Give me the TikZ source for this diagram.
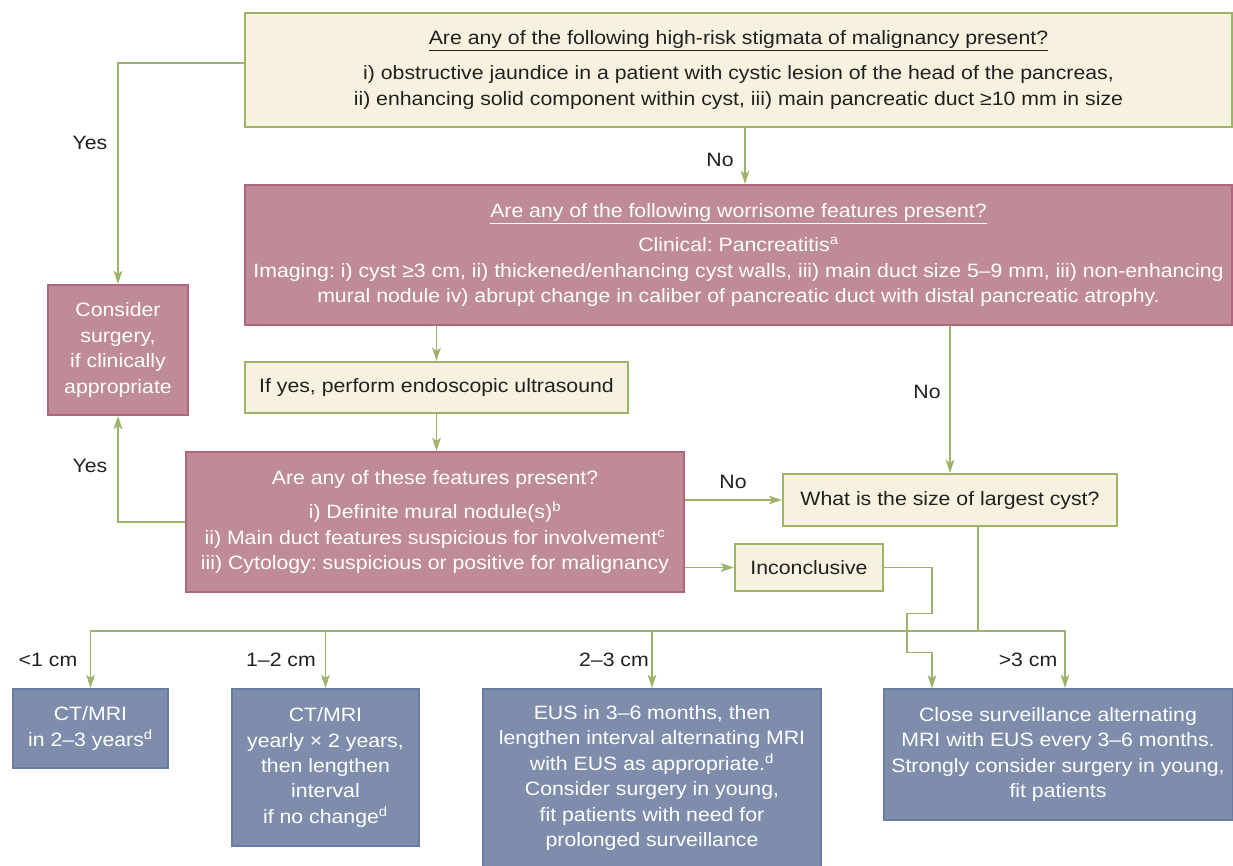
\documentclass[tikz,border=0pt]{standalone}
\usepackage{fontspec}
\setmainfont{Liberation Sans}[FakeStretch=1.1]
\usetikzlibrary{arrows.meta,positioning}
\definecolor{ink}{HTML}{231F20}
\definecolor{leaf}{HTML}{9DB36A}
\definecolor{cream}{HTML}{F7F2DF}
\definecolor{mauve}{HTML}{BE8B97}
\definecolor{mauvedark}{HTML}{B0677E}
\definecolor{slate}{HTML}{7F8DAD}
\definecolor{slatedark}{HTML}{687CA2}
\tikzset{sz/.style 2 args={minimum width=#1*.75pt,minimum height=#2*.75pt}}
\frenchspacing

\begin{document}
\begin{tikzpicture}[x=.75pt,y=-.75pt,>={Stealth[length=10pt,width=6.5pt,inset=2.5pt]},
  font=\fontsize{14.5}{19.1}\selectfont,text=ink,
  qbox/.style={draw=leaf,line width=1.5pt,fill=cream,align=center,inner sep=0pt},
  warn/.style={draw=mauvedark,line width=1.5pt,fill=mauve,text=white,align=center,inner sep=0pt},
  plan/.style={draw=slatedark,line width=1.5pt,fill=slate,text=white,align=center,inner sep=0pt},
  flow/.style={->,line width=1.1pt,draw=leaf},
  lab/.style={inner sep=0pt}]

\useasboundingbox (0,0) rectangle (1233,865);

% questions
\node[qbox,sz={987}{114}] (stigmata) at (738.5,70)
  {\underline{Are any of the following high-risk stigmata of malignancy present?}\\[7pt]
   i) obstructive jaundice in a patient with cystic lesion of the head of the pancreas,\\
   ii) enhancing solid component within cyst, iii) main pancreatic duct ≥10 mm in size};
\node[warn,sz={987}{140}] (worry) at (738.5,255)
  {\underline{Are any of the following worrisome features present?}\\[7pt]
   Clinical: Pancreatitis\textsuperscript{a}\\
   Imaging: i) cyst ≥3 cm, ii) thickened/enhancing cyst walls, iii) main duct size 5–9 mm, iii) non-enhancing\\
   mural nodule iv) abrupt change in caliber of pancreatic duct with distal pancreatic atrophy.};
\node[warn,sz={140}{130}] (surgery) at (118,350)
  {Consider\\surgery,\\if clinically\\appropriate};
\node[qbox,sz={383}{51}] (eus) at (436.5,387.5) {If yes, perform endoscopic ultrasound};
\node[warn,sz={498}{140}] (features) at (435,522)
  {Are any of these features present?\\[7pt]
   i) Definite mural nodule(s)\textsuperscript{b}\\
   ii) Main duct features suspicious for involvement\textsuperscript{c}\\
   iii) Cytology: suspicious or positive for malignancy};
\node[qbox,sz={334}{52}] (size) at (950,500) {What is the size of largest cyst?};
\node[qbox,sz={148}{47}] (inconcl) at (809,567.5) {Inconclusive};

% follow-up plans
\node[plan,sz={155}{79}] (small) at (90.5,728.5) {CT/MRI\\in 2–3 years\textsuperscript{d}};
\node[plan,sz={187}{157}] (mid) at (325.5,767.5)
  {CT/MRI\\yearly × 2 years,\\then lengthen\\interval\\if no change\textsuperscript{d}};
\node[plan,sz={338}{178}] (large) at (652,778)
  {EUS in 3–6 months, then\\lengthen interval alternating MRI\\with EUS as appropriate.\textsuperscript{d}\\
   Consider surgery in young,\\fit patients with need for\\prolonged surveillance};
\node[plan,sz={349}{131}] (huge) at (1058,754.5)
  {Close surveillance alternating\\MRI with EUS every 3–6 months.\\Strongly consider surgery in young,\\fit patients};

% connectors
\draw[flow] ([yshift=5.25pt]stigmata.west) -| (surgery.north);
\draw[flow] ([xshift=4.9pt]stigmata.south) -- ([xshift=4.9pt]worry.north);
\draw[flow] (worry.south -| eus.north) -- (eus.north);
\draw[flow] (worry.south -| size.north) -- (size.north);
\draw[flow] (eus.south) -- (eus.south |- features.north);
\draw[flow] (features.west) -| (surgery.south);
\draw[flow] (features.east |- size.west) -- (size.west);
\draw[flow] (features.east |- inconcl.west) -- (inconcl.west);
\draw[flow] (inconcl.east) -- ++(48,0) -- ++(0,46) -- ++(-25,0) -- ++(0,39) -- ++(25,0) -- ++(0,36);
\coordinate (split) at (978,631);
\draw[flow,-] ([xshift=21pt]size.south) -- (split);
\draw[flow] (split) -| (small.north);
\draw[flow] (split) -| ([xshift=5.25pt]huge.north);
\draw[flow] (mid.north |- split) -- (mid.north);
\draw[flow] (large.north |- split) -- (large.north);

% labels
\node[lab] (yes1) at (90,143) {Yes};
\node[lab] (no1) at (720,160) {No};
\node[lab] (no2) at (927,392) {No};
\node[lab] (yes2) at (90,466) {Yes};
\node[lab] (no3) at (733,482) {No};
\node[lab] (lt1) at (48,660) {<1 cm};
\node[lab] (r12) at (281,660) {1–2 cm};
\node[lab] (r23) at (614,660) {2–3 cm};
\node[lab] (gt3) at (1028,660) {>3 cm};

\end{tikzpicture}
\end{document}
